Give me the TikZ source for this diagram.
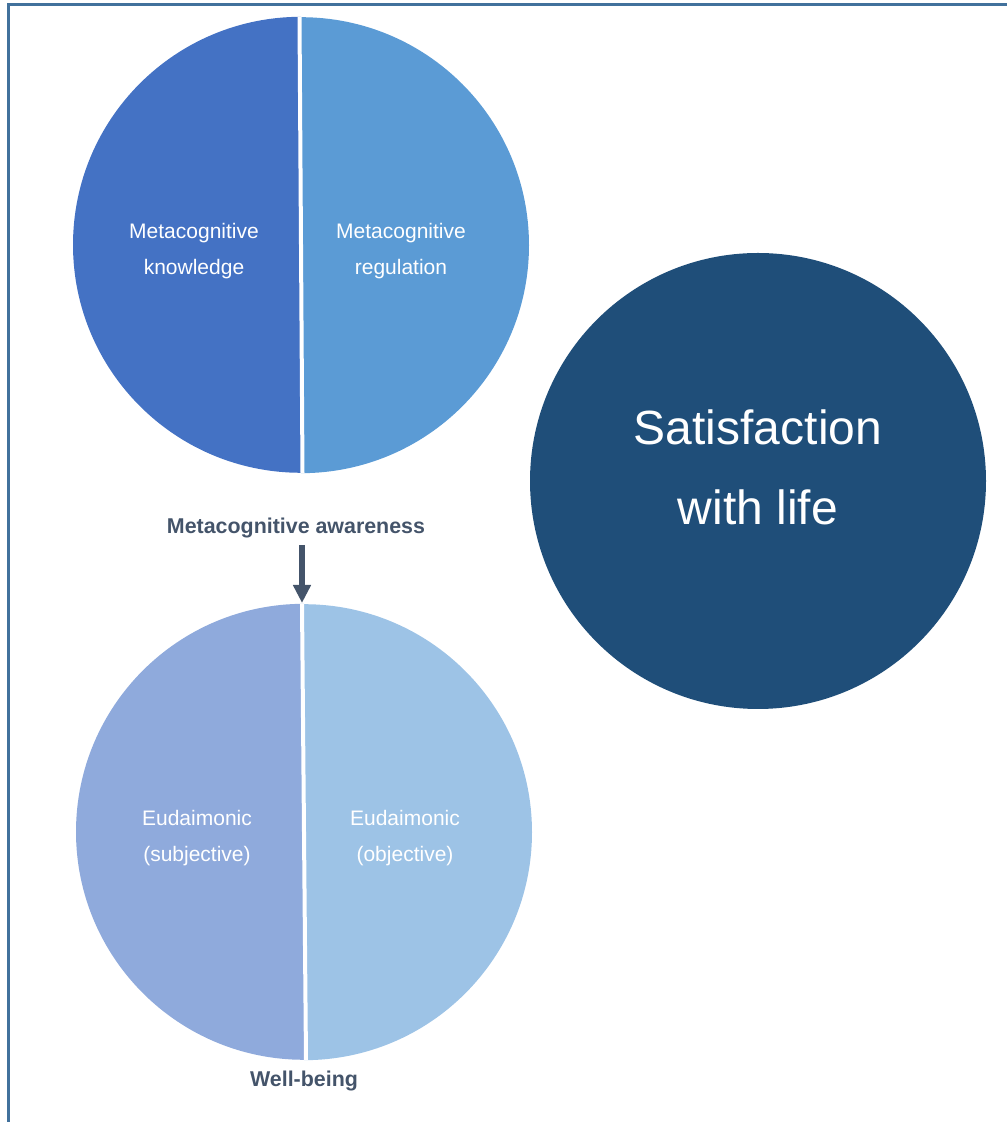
\documentclass[tikz,border=0pt]{standalone}
\usepackage{fontspec}
\setmainfont{Liberation Sans}
\usetikzlibrary{arrows.meta}
\definecolor{knowcol}{HTML}{4472C4}
\definecolor{regcol}{HTML}{5B9BD5}
\definecolor{subjcol}{HTML}{8FAADC}
\definecolor{objcol}{HTML}{9DC3E6}
\definecolor{lifecol}{HTML}{1F4E79}
\definecolor{labcol}{HTML}{44546A}
\definecolor{framecol}{HTML}{41719C}
\tikzset{
  half/.style={text=white, align=center, font=\fontsize{21}{36}\selectfont},
  capt/.style={text=labcol, font=\fontsize{21.4}{24}\selectfont\bfseries},
  ring/.style={circle, minimum size=456pt, inner sep=0pt},
  gap/.style={white, line width=4pt}
}
\begin{document}
\begin{tikzpicture}[x=1pt,y=1pt]
\useasboundingbox (0,0) rectangle (1007,1122);
\draw [framecol, line width=3pt] (8,0) -- (8,1117) -- (1007,1117);

\node [ring] (mc) at (301,877) {};
\fill [knowcol] (mc.north) arc (90:270:228pt) -- cycle;
\fill [regcol] (mc.south) arc (-90:90:228pt) -- cycle;
\draw [gap] ([xshift=-1.5pt]mc.north) -- ([xshift=1.5pt]mc.south);

\node [ring] (wb) at (304,290) {};
\fill [subjcol] (wb.north) arc (90:270:228pt) -- cycle;
\fill [objcol] (wb.south) arc (-90:90:228pt) -- cycle;
\draw [gap] ([xshift=-2pt]wb.north) -- ([xshift=2pt]wb.south);

\node [ring, fill=lifecol] (life) at (758,641) {};

\node [half] (know) at (194,871) {Metacognitive\\knowledge};
\node [half] (reg) at (401,871) {Metacognitive\\regulation};
\node [half] (subj) at (197,284) {Eudaimonic\\(subjective)};
\node [half] (obj) at (405,284) {Eudaimonic\\(objective)};
\node [text=white, align=center, font=\fontsize{48}{80}\selectfont] (sat) at (758,655) {Satisfaction\\with life};

\node [capt] (aware) at (296,594) {Metacognitive awareness};
\node [capt] (well) at (304,41) {Well-being};

\coordinate (arrowtop) at (302,577);
\coordinate (wbtop) at (302,519);
\draw [labcol, line width=6pt, -{Triangle[width=17pt,length=18pt]}] (arrowtop) -- (wbtop);
\end{tikzpicture}
\end{document}
